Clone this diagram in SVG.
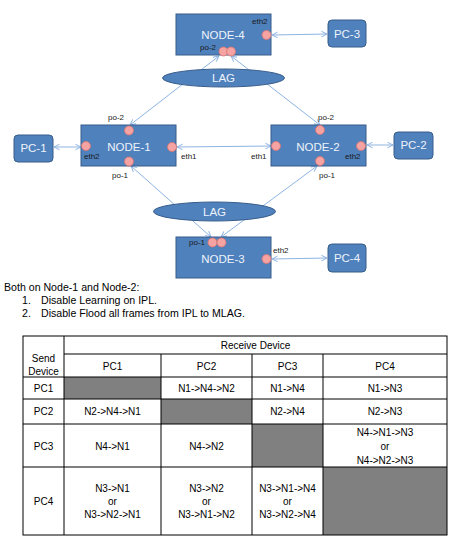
<svg xmlns="http://www.w3.org/2000/svg" width="464" height="542" viewBox="0 0 464 542">
<style>
.node{fill:#4f81bd;stroke:#385d8a;stroke-width:1}
.nt{font-family:"Liberation Sans",Arial,sans-serif;font-size:11.5px;fill:#eef3fa;text-anchor:middle}
.pc{fill:#4f81bd;stroke:#385d8a;stroke-width:1}
.port{fill:#f5a3a3;stroke:#d9736f;stroke-width:0.8}
.pl{font-family:"Liberation Sans",Arial,sans-serif;font-size:8px;fill:#1a1a1a}
.conn{stroke:#8db3e2;stroke-width:1;fill:none;marker-start:url(#ah);marker-end:url(#ah)}
.lag{fill:#4f81bd;stroke:#385d8a;stroke-width:1}
.txt{font-family:"Liberation Sans",Arial,sans-serif;font-size:10.6px;fill:#000}
.tl{stroke:#000;stroke-width:1;fill:none}
.gray{fill:#808080}
.tt{font-family:"Liberation Sans",Arial,sans-serif;font-size:10px;fill:#000;text-anchor:middle}
</style>
<defs>
<marker id="ah" viewBox="0 0 10 10" refX="9" refY="5" markerWidth="7" markerHeight="7" orient="auto-start-reverse" markerUnits="userSpaceOnUse">
<path d="M1,1 L9,5 L1,9" fill="none" stroke="#8db3e2" stroke-width="1.4"/>
</marker>
</defs>
<rect width="464" height="542" fill="#fff"/>

<g id="connectors">
<line class="conn" x1="272" y1="35" x2="327" y2="34"/>
<line class="conn" x1="130" y1="125" x2="219" y2="56"/>
<line class="conn" x1="320" y1="125" x2="231" y2="56"/>
<line class="conn" x1="54" y1="147" x2="81" y2="147"/>
<line class="conn" x1="177" y1="147" x2="271" y2="146"/>
<line class="conn" x1="367" y1="145" x2="393" y2="145"/>
<line class="conn" x1="131" y1="166" x2="211" y2="237"/>
<line class="conn" x1="317" y1="166" x2="221" y2="237"/>
<line class="conn" x1="272" y1="259" x2="327" y2="258"/>
</g>

<g id="lag-top">
<ellipse class="lag" cx="223.5" cy="78" rx="61" ry="9"/>
<text class="nt" x="223.5" y="82">LAG</text>
</g>
<g id="lag-bottom">
<ellipse class="lag" cx="214.5" cy="211.5" rx="61" ry="9.5"/>
<text class="nt" x="214.5" y="215.5">LAG</text>
</g>

<g id="node-4">
<rect class="node" x="176" y="14" width="95" height="41"/>
<text class="nt" x="223" y="39">NODE-4</text>
<text class="pl" x="252" y="24">eth2</text>
<circle class="port" cx="266.5" cy="35" r="4.5"/>
<text class="pl" x="200" y="50">po-2</text>
<circle class="port" cx="223.5" cy="51.5" r="4.5"/>
<circle class="port" cx="231" cy="51.5" r="4.5"/>
</g>

<g id="pc-3">
<rect class="pc" x="328" y="20" width="38" height="27" rx="4"/>
<text class="nt" x="347" y="38">PC-3</text>
</g>

<g id="node-1">
<rect class="node" x="81" y="125" width="95" height="41"/>
<text class="nt" x="129" y="151">NODE-1</text>
<circle class="port" cx="129" cy="130.5" r="4.5"/>
<text class="pl" x="108" y="120">po-2</text>
<circle class="port" cx="86" cy="146" r="4.5"/>
<text class="pl" x="84" y="159">eth2</text>
<circle class="port" cx="172" cy="147" r="4.5"/>
<text class="pl" x="181" y="159">eth1</text>
<circle class="port" cx="129" cy="161.5" r="4.5"/>
<text class="pl" x="112" y="178">po-1</text>
</g>

<g id="node-2">
<rect class="node" x="271" y="125" width="95" height="41"/>
<text class="nt" x="318" y="151">NODE-2</text>
<circle class="port" cx="320" cy="130" r="4.5"/>
<text class="pl" x="318" y="120">po-2</text>
<circle class="port" cx="276" cy="146" r="4.5"/>
<text class="pl" x="251" y="159">eth1</text>
<circle class="port" cx="361" cy="146" r="4.5"/>
<text class="pl" x="345" y="159">eth2</text>
<circle class="port" cx="320" cy="161" r="4.5"/>
<text class="pl" x="319" y="178">po-1</text>
</g>

<g id="pc-1">
<rect class="pc" x="14" y="135" width="39" height="27" rx="4"/>
<text class="nt" x="33.5" y="152">PC-1</text>
</g>
<g id="pc-2">
<rect class="pc" x="394" y="132" width="39" height="27" rx="4"/>
<text class="nt" x="413.5" y="149">PC-2</text>
</g>

<g id="node-3">
<rect class="node" x="176" y="237" width="95" height="41"/>
<text class="nt" x="223" y="263">NODE-3</text>
<text class="pl" x="189" y="245">po-1</text>
<circle class="port" cx="212.5" cy="242.5" r="4.5"/>
<circle class="port" cx="221.5" cy="242.5" r="4.5"/>
<text class="pl" x="273" y="253">eth2</text>
<circle class="port" cx="266.5" cy="259" r="4.5"/>
</g>

<g id="pc-4">
<rect class="pc" x="328" y="244" width="38" height="28" rx="4"/>
<text class="nt" x="347" y="262">PC-4</text>
</g>

<g id="notes">
<text class="txt" x="4" y="291">Both on Node-1 and Node-2:</text>
<text class="txt" x="22" y="304">1.</text>
<text class="txt" x="41" y="304">Disable Learning on IPL.</text>
<text class="txt" x="22" y="317">2.</text>
<text class="txt" x="41" y="317">Disable Flood all frames from IPL to MLAG.</text>
</g>

<g id="table">
<rect class="gray" x="64" y="377" width="97" height="22"/>
<rect class="gray" x="161" y="399" width="91" height="25"/>
<rect class="gray" x="252" y="424" width="71" height="43"/>
<rect class="gray" x="323" y="467" width="124" height="68"/>
<rect class="tl" x="23" y="336" width="424" height="199"/>
<line class="tl" x1="64" y1="336" x2="64" y2="535"/>
<line class="tl" x1="64" y1="354" x2="447" y2="354"/>
<line class="tl" x1="23" y1="377" x2="447" y2="377"/>
<line class="tl" x1="23" y1="399" x2="447" y2="399"/>
<line class="tl" x1="23" y1="424" x2="447" y2="424"/>
<line class="tl" x1="23" y1="467" x2="447" y2="467"/>
<line class="tl" x1="161" y1="354" x2="161" y2="535"/>
<line class="tl" x1="252" y1="354" x2="252" y2="535"/>
<line class="tl" x1="323" y1="354" x2="323" y2="535"/>
<text class="tt" x="255.5" y="349">Receive Device</text>
<text class="tt" x="43.5" y="362">Send</text>
<text class="tt" x="43.5" y="375">Device</text>
<text class="tt" x="112.5" y="370">PC1</text>
<text class="tt" x="206.5" y="370">PC2</text>
<text class="tt" x="287.5" y="370">PC3</text>
<text class="tt" x="385" y="370">PC4</text>
<text class="tt" x="43.5" y="391.5">PC1</text>
<text class="tt" x="206.5" y="391.5">N1-&gt;N4-&gt;N2</text>
<text class="tt" x="287.5" y="391.5">N1-&gt;N4</text>
<text class="tt" x="385" y="391.5">N1-&gt;N3</text>
<text class="tt" x="43.5" y="415">PC2</text>
<text class="tt" x="112.5" y="415">N2-&gt;N4-&gt;N1</text>
<text class="tt" x="287.5" y="415">N2-&gt;N4</text>
<text class="tt" x="385" y="415">N2-&gt;N3</text>
<text class="tt" x="43.5" y="450">PC3</text>
<text class="tt" x="112.5" y="450">N4-&gt;N1</text>
<text class="tt" x="206.5" y="450">N4-&gt;N2</text>
<text class="tt" x="385" y="436">N4-&gt;N1-&gt;N3</text>
<text class="tt" x="385" y="450">or</text>
<text class="tt" x="385" y="464">N4-&gt;N2-&gt;N3</text>
<text class="tt" x="43.5" y="505">PC4</text>
<text class="tt" x="112.5" y="491.5">N3-&gt;N1</text>
<text class="tt" x="112.5" y="505">or</text>
<text class="tt" x="112.5" y="518">N3-&gt;N2-&gt;N1</text>
<text class="tt" x="206.5" y="491.5">N3-&gt;N2</text>
<text class="tt" x="206.5" y="505">or</text>
<text class="tt" x="206.5" y="518">N3-&gt;N1-&gt;N2</text>
<text class="tt" x="287.5" y="491.5">N3-&gt;N1-&gt;N4</text>
<text class="tt" x="287.5" y="505">or</text>
<text class="tt" x="287.5" y="518">N3-&gt;N2-&gt;N4</text>
</g>
</svg>
